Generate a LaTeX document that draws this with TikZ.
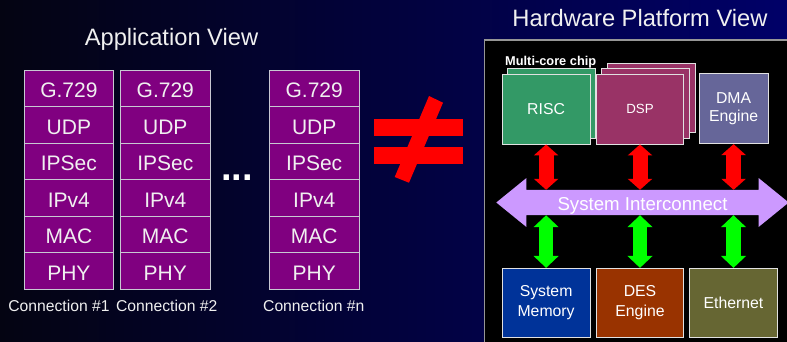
\documentclass[tikz,border=0pt]{standalone}
\usepackage{fontspec}
\setmainfont{Liberation Sans}
\usetikzlibrary{arrows.meta,calc}

\definecolor{bgleft}{RGB}{4,4,18}
\definecolor{bgright}{RGB}{0,0,104}
\definecolor{layerfill}{RGB}{128,0,128}
\definecolor{layerline}{RGB}{200,200,210}
\definecolor{panelline}{RGB}{150,150,150}
\definecolor{boxline}{RGB}{225,225,225}
\definecolor{riscfill}{RGB}{51,153,102}
\definecolor{dspfill}{RGB}{153,51,102}
\definecolor{dmafill}{RGB}{102,102,153}
\definecolor{memfill}{RGB}{0,51,153}
\definecolor{desfill}{RGB}{153,51,0}
\definecolor{ethfill}{RGB}{102,102,51}
\definecolor{busfill}{RGB}{204,153,255}
\definecolor{arrowred}{RGB}{255,0,0}
\definecolor{arrowgreen}{RGB}{0,255,0}
\definecolor{labeltext}{RGB}{240,240,240}

\begin{document}
\begin{tikzpicture}[x=1pt,y=-1pt,
  viewtitle/.style={anchor=base, text=labeltext, font=\fontsize{23.7}{28}\selectfont, inner sep=0},
  layer/.style={draw=layerline, line width=0.8pt, fill=layerfill, text=labeltext,
    minimum width=89.5pt, minimum height=36.55pt, inner sep=0,
    text height=19pt, text depth=0pt, font=\fontsize{21}{25}\selectfont},
  connlabel/.style={anchor=base, text=labeltext, inner sep=0, font=\fontsize{15.7}{19}\selectfont},
  hwbox/.style={draw=boxline, line width=0.8pt, text=white, inner sep=0, align=center,
    minimum width=87.7pt, minimum height=69.7pt, font=\fontsize{15.8}{18.5}\selectfont},
  redarrow/.style={draw=arrowred, line width=15pt,
    {Triangle[length=11pt,width=24pt]}-{Triangle[length=11pt,width=24pt]}},
  greenarrow/.style={draw=arrowgreen, line width=14.5pt,
    {Triangle[length=12pt,width=24.5pt]}-{Triangle[length=12pt,width=24.5pt]}},
]

% background
\shade[left color=bgleft, right color=bgright] (0,0) rectangle (787,341);
\useasboundingbox (0,0) rectangle (787,341);

% ---------- application view ----------
\node[viewtitle] (appview) at (171.5,45) {Application View};

\foreach \s/\x in {1/68.9, 2/165.3, n/314.2} {
  \foreach \lbl [count=\i] in {G.729,UDP,IPSec,IPv4,MAC,PHY} {
    \node[layer] (st\s-\i) at (\x,{51.725+36.55*\i}) {\lbl};
  }
}

\node[connlabel] (conn1) at (59,311.3) {Connection \#1};
\node[connlabel] (conn2) at (166.7,311.3) {Connection \#2};
\node[connlabel] (connn) at (313.8,311.3) {Connection \#n};

\node[anchor=base, text=white, inner sep=0, font=\bfseries\fontsize{38}{40}\selectfont]
  (dots) at (237,180.7) {...};

% not-equal sign
\fill[arrowred] (374,119) rectangle (462.7,135.7);
\fill[arrowred] (374,147) rectangle (462.7,163.7);
\fill[arrowred] (429,96) -- (443,102.7) -- (409,182.7) -- (394.7,177) -- cycle;

% ---------- hardware platform view ----------
\node[viewtitle] (hwview) at (640,26.5) {Hardware Platform View};

\draw[panelline, line width=1.4pt, fill=black] (484.5,40) rectangle (800,360);

\node[anchor=base west, text=white, inner sep=0, font=\bfseries\fontsize{12.8}{15}\selectfont]
  (multicore) at (505,65) {Multi-core chip};

% processing cores
\node[hwbox, fill=riscfill] (riscback) at (551.4,103.5) {};
\node[hwbox, fill=riscfill] (risc) at (546.1,109.2) {RISC};

\node[hwbox, fill=dspfill] (dspback2) at (651.2,97.8) {};
\node[hwbox, fill=dspfill] (dspback1) at (645.6,103.5) {};
\node[hwbox, fill=dspfill, font=\fontsize{13.3}{16}\selectfont] (dsp) at (640,109.2) {DSP};

\node[hwbox, fill=dmafill, minimum width=68.7pt, minimum height=70.4pt,
  font=\fontsize{15.8}{17.7}\selectfont] (dma) at (733.6,108.5) {DMA\\Engine};

% peripherals
\node[hwbox, fill=memfill, minimum height=69pt, font=\fontsize{15.8}{20}\selectfont]
  (mem) at (546.1,302.8) {System\\Memory};
\node[hwbox, fill=desfill, minimum height=69pt, font=\fontsize{15.8}{20}\selectfont]
  (des) at (640,302.8) {DES\\Engine};
\node[hwbox, fill=ethfill, minimum width=88.4pt, minimum height=69pt] (eth) at (733.5,302.8) {Ethernet};

% system interconnect: shaft node plus two arrow heads
\node[minimum width=232pt, minimum height=25pt, inner sep=0] (bus) at (642.5,202.5) {};
\fill[busfill] (bus.north west) -- (bus.north east)
  -- ($(bus.north east)+(0,-11.7)$) -- ($(bus.east)+(30,0)$)
  -- ($(bus.south east)+(0,11.7)$) -- (bus.south east)
  -- (bus.south west) -- ($(bus.south west)+(0,11.7)$)
  -- ($(bus.west)+(-30,0)$) -- ($(bus.north west)+(0,-11.7)$) -- cycle;
\node[text=white, inner sep=0, font=\fontsize{18.65}{22}\selectfont,
  text height=15.8pt, text depth=0pt] (bustext) at (bus.center) {System Interconnect};

% links between blocks and the interconnect
\draw[redarrow] (risc.south) -- (risc.south |- bus.north);
\draw[redarrow] (dsp.south) -- (dsp.south |- bus.north);
\draw[redarrow] (dma.south) -- (dma.south |- bus.north);
\draw[greenarrow] (mem.north |- bus.south) -- (mem.north);
\draw[greenarrow] (des.north |- bus.south) -- (des.north);
\draw[greenarrow] (eth.north |- bus.south) -- (eth.north);

\end{tikzpicture}
\end{document}
